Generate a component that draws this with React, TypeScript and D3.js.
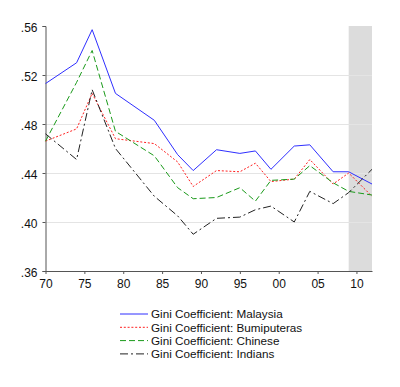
import React, { useRef, useEffect } from 'react';
import * as d3 from 'd3';

const years = [1970, 1974, 1976, 1979, 1984, 1987, 1989, 1992, 1995, 1997, 1999, 2002, 2004, 2007, 2009, 2012];
const malaysia = [0.513, 0.530, 0.557, 0.505, 0.483, 0.455, 0.442, 0.459, 0.456, 0.458, 0.443, 0.462, 0.463, 0.441, 0.441, 0.431];
const bumiputeras = [0.466, 0.476, 0.505, 0.468, 0.464, 0.449, 0.429, 0.442, 0.441, 0.448, 0.433, 0.435, 0.451, 0.431, 0.440, 0.421];
const chinese = [0.466, 0.514, 0.540, 0.474, 0.454, 0.428, 0.419, 0.420, 0.428, 0.417, 0.434, 0.435, 0.446, 0.432, 0.425, 0.422];
const indians = [0.472, 0.451, 0.508, 0.460, 0.421, 0.405, 0.390, 0.403, 0.404, 0.410, 0.413, 0.400, 0.425, 0.415, 0.424, 0.443];

const yTicks = [0.36, 0.40, 0.44, 0.48, 0.52, 0.56];
const xTicks = [1970, 1975, 1980, 1985, 1990, 1995, 2000, 2005, 2010];
const shadeRange = [2009, 2012];

const seriesNames = [
  'Gini Coefficient: Malaysia',
  'Gini Coefficient: Bumiputeras',
  'Gini Coefficient: Chinese',
  'Gini Coefficient: Indians',
];
const seriesValues = [malaysia, bumiputeras, chinese, indians];
const seriesColors = ['#2f2fff', '#ff2020', '#1a9a1a', '#222222'];
const seriesDash = ['', '2,1.8', '6,3', '8,3,2,3'];

const App = () => {
  const svgRef = useRef<SVGSVGElement | null>(null);

  useEffect(() => {
    const width = 400;
    const height = 387;
    const margin = { top: 26, right: 28, bottom: 116, left: 45.5 };
    const font = 'Liberation Sans, Arial, sans-serif';

    const svg = d3.select(svgRef.current);
    svg.selectAll('*').remove();
    svg.attr('width', width).attr('height', height);

    const x = d3
      .scaleLinear()
      .domain([1970, 2012])
      .range([margin.left, width - margin.right]);

    const y = d3
      .scaleLinear()
      .domain([0.36, 0.56])
      .range([height - margin.bottom, margin.top]);

    // shaded band at the end of the sample
    svg
      .append('rect')
      .attr('x', x(shadeRange[0]))
      .attr('y', margin.top)
      .attr('width', x(shadeRange[1]) - x(shadeRange[0]))
      .attr('height', y(0.36) - margin.top)
      .attr('fill', '#dcdcdc');

    // horizontal grid
    svg
      .append('g')
      .selectAll('line')
      .data(yTicks.filter(t => t > 0.36 && t < 0.56))
      .join('line')
      .attr('x1', margin.left)
      .attr('x2', width - margin.right)
      .attr('y1', d => Math.round(y(d)) + 0.5)
      .attr('y2', d => Math.round(y(d)) + 0.5)
      .attr('stroke', '#e4e4e4')
      .attr('stroke-width', 1);

    // axes
    const yAxis = svg
      .append('g')
      .attr('transform', `translate(${margin.left},0)`)
      .call(
        d3
          .axisLeft(y)
          .tickValues(yTicks)
          .tickSize(3)
          .tickPadding(5)
          .tickFormat(d => d3.format('.2f')(d as number).replace(/^0/, ''))
      );
    yAxis.select('.domain').attr('stroke', '#555');
    yAxis.selectAll('.tick line').attr('stroke', '#555');
    yAxis
      .selectAll('text')
      .attr('dy', '0.45em')
      .style('font-family', font)
      .style('font-size', '12px')
      .attr('fill', '#111');

    const xAxis = svg
      .append('g')
      .attr('transform', `translate(0,${height - margin.bottom})`)
      .call(
        d3
          .axisBottom(x)
          .tickValues(xTicks)
          .tickSize(3)
          .tickSizeOuter(0)
          .tickPadding(5)
          .tickFormat(d => String(d as number).slice(2))
      );
    xAxis.select('.domain').attr('stroke', '#555');
    xAxis.selectAll('.tick line').attr('stroke', '#555');
    xAxis
      .selectAll('text')
      .style('font-family', font)
      .style('font-size', '12px')
      .attr('fill', '#111');

    // series lines
    const line = d3
      .line<number>()
      .x((_, i) => x(years[i]))
      .y(d => y(d));

    seriesValues.forEach((vals, k) => {
      svg
        .append('path')
        .datum(vals)
        .attr('d', line)
        .attr('fill', 'none')
        .attr('stroke', seriesColors[k])
        .attr('stroke-width', 1)
        .attr('stroke-dasharray', seriesDash[k]);
    });

    // legend
    const legend = svg.append('g').attr('transform', 'translate(120,314)');
    seriesNames.forEach((name, k) => {
      const row = legend.append('g').attr('transform', `translate(0,${k * 13.3})`);
      row
        .append('line')
        .attr('x1', 0)
        .attr('x2', 28)
        .attr('y1', 0)
        .attr('y2', 0)
        .attr('stroke', seriesColors[k])
        .attr('stroke-width', 1)
        .attr('stroke-dasharray', seriesDash[k]);
      row
        .append('text')
        .attr('x', 31)
        .attr('y', 0)
        .attr('dy', '0.36em')
        .style('font-family', font)
        .style('font-size', '11.7px')
        .attr('fill', '#111')
        .text(name);
    });
  }, []);

  return (
    <div style={{ position: 'absolute', left: 0, top: 0 }}>
      <svg ref={svgRef}></svg>
    </div>
  );
};

export default App;
